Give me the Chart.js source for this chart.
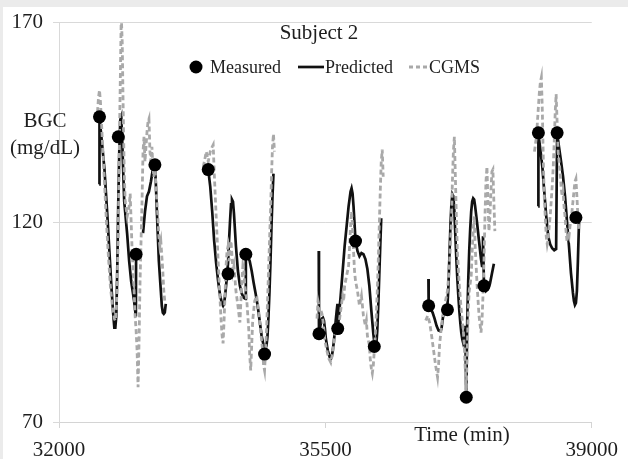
<!DOCTYPE html>
<html><head><meta charset="utf-8">
<script src="https://cdn.jsdelivr.net/npm/chart.js@4.4.0/dist/chart.umd.min.js"></script>
<style>html,body{margin:0;padding:0;background:#fff;}canvas{display:block;}</style>
</head><body>
<canvas id="c" width="628" height="459"></canvas>
<script>
const xTicks = [32000, 35500, 39000];
const yTicks = [70, 120, 170];
const seriesNames = ['Measured', 'Predicted', 'CGMS'];

const measT = [32532,32779,33013,33260,33961,34221,34455,34701,35416,35662,35896,36143,36857,37104,37351,37584,38299,38545,38792];
const measV = [146.4,141.4,112.0,134.4,133.2,107.1,112.0,87.0,92.1,93.4,115.3,88.9,99.1,98.1,76.2,104.1,142.4,142.4,121.2];

const predT = [
32528,32532,32597,32636,32662,32688,32714,32727,32740,32753,32766,32779,32792,32805,32818,32831,32857,32896,32922,32948,32987,33010,33013,null,
33104,33130,33156,33182,33208,33234,33260,33273,33286,33299,33312,33338,33351,33364,33377,33390,33403,null,
33961,33987,34013,34039,34065,34091,34117,34143,34156,34169,34182,34195,34208,34221,34234,34247,34260,34273,34286,34299,34325,34351,34377,34403,34429,34452,34455,34481,34506,34532,34558,34584,34610,34636,34662,34688,34714,34727,34740,34753,34766,34779,34792,34805,34818,null,
35413,35416,35442,35455,35468,35481,35494,35506,35532,35558,35571,35584,35597,35610,35623,35636,35649,35659,35662,35675,35701,35727,35753,35779,35805,35831,35844,35857,35870,35883,35896,35922,35948,35974,36000,36026,36052,36078,36104,36130,36143,36156,36169,36182,36195,36208,36221,36234,null,
36854,36857,36883,36909,36935,36961,36987,37013,37026,37039,37052,37065,37091,37104,37117,37130,37143,37156,37169,37182,37195,37208,37221,37234,37247,37260,37273,37286,37299,37312,37325,37338,37351,37364,37377,37390,37403,37416,37429,37442,37455,37468,37494,37519,37545,37558,37571,37584,37610,37636,37662,37688,37714,null,
38296,38299,38325,38351,38376,38402,38428,38454,38480,38507,38532,38545,38571,38597,38623,38649,38675,38701,38727,38753,38766,38779,38792,38805,38818,38831,38836];
const predV = [
129.5,146.4,133.4,121.5,112.8,104.1,96.6,93.6,93.6,96.6,108.6,125.2,137.7,145.6,146.4,140.1,125.2,117.0,110.3,105.3,100.3,96.4,112.0,null,
117.3,122.7,126.5,127.7,130.2,133.4,134.4,129.5,122.7,116.5,110.3,102.8,99.1,97.4,97.1,97.4,99.6,null,
133.2,129.0,122.7,115.3,109.8,105.3,101.6,99.6,99.1,99.6,101.6,104.1,106.6,109.8,115.3,120.2,124.5,125.7,125.2,122.2,114.0,107.8,104.1,102.1,101.1,100.8,112.3,111.5,110.3,107.8,104.8,102.1,99.1,95.4,91.6,89.2,88.4,89.2,91.6,96.6,102.8,110.3,119.0,126.5,132.2,null,
112.8,92.1,94.9,95.9,96.1,95.4,93.4,90.9,87.9,86.2,85.9,86.4,87.9,89.9,92.4,95.4,97.9,99.6,93.4,95.9,101.6,107.8,114.0,119.0,124.0,127.7,128.5,127.2,124.0,119.7,115.3,112.8,111.5,112.3,112.0,110.8,108.3,104.1,97.9,92.1,89.9,88.7,89.2,92.9,99.1,106.6,114.0,121.0,null,
105.8,99.1,98.4,97.4,95.9,94.1,92.9,92.7,93.4,95.4,97.1,97.9,98.1,99.1,104.1,111.5,119.0,124.5,127.0,126.5,122.7,116.5,110.8,105.8,101.6,97.9,94.9,92.4,90.7,89.7,90.4,94.1,76.2,95.4,105.3,112.8,118.3,122.7,125.2,126.0,125.7,124.0,119.7,115.3,110.8,109.1,116.5,104.1,102.8,103.3,104.6,107.1,109.6,null,
124.0,142.1,138.2,133.9,127.7,121.5,116.5,114.5,113.5,113.0,113.3,142.4,138.7,135.2,131.4,126.5,120.2,114.0,107.3,102.3,100.3,99.3,99.8,102.8,110.3,119.0,121.2];

const cgmsT = [
32506,32519,32532,32545,32571,32597,32623,32649,32675,32701,32727,32740,32753,32766,32779,32792,32805,32818,32831,32844,32857,32870,32896,32922,32935,32948,32961,32987,33000,33013,33026,33039,33052,33065,33078,33091,33104,33117,33130,33143,33156,33169,33182,33195,33208,33221,33234,33247,33260,33273,33286,33299,33312,33325,33338,33351,33364,33377,33390,null,
33896,33922,33935,33961,33987,34013,34026,34039,34065,34091,34117,34130,34143,34156,34169,34182,34195,34208,34221,34234,34247,34260,34273,34286,34299,34325,34351,34377,34390,34403,34416,34429,34442,34468,34494,34506,34519,34532,34545,34571,34597,34623,34649,34675,34688,34701,34714,34727,34740,34753,34766,34779,34792,34805,34818,34831,null,
35390,35403,35416,35429,35442,35455,35468,35481,35494,35519,35545,35571,35597,35623,35649,35662,35675,35701,35727,35740,35753,35779,35805,35818,35831,35844,35857,35870,35883,35896,35922,35948,35974,36000,36026,36039,36052,36078,36091,36104,36117,36130,36143,36156,36169,36182,36195,36208,36221,36234,36247,36260,null,
36818,36844,36870,36896,36922,36948,36974,36987,37000,37026,37052,37078,37104,37130,37156,37169,37182,37195,37208,37221,37234,37260,37286,37312,37325,37338,37351,37364,37377,37390,37416,37429,37442,37455,37468,37494,37519,37545,37558,37571,37584,37597,37610,37623,37636,37649,37662,37675,37688,37701,37714,37727,null,
38247,38273,38286,38299,38312,38325,38338,38351,38364,38376,38389,38402,38415,38428,38441,38454,38467,38480,38494,38507,38520,38532,38545,38558,38571,38584,38597,38610,38623,38636,38649,38662,38675,38688,38701,38714,38727,38740,38753,38766,38779,38792,38805,38818,38831];
const cgmsV = [
147.6,151.3,153.1,150.1,140.1,130.2,120.2,111.5,104.1,99.1,95.9,95.4,97.9,105.3,117.8,137.7,155.1,172,165,147.6,132.7,125.2,121.5,124.0,127.2,120.2,112.8,102.8,96.6,92.9,87.9,78.7,90.4,105.3,115.3,125.2,137.7,141.4,135.2,138.9,142.6,145.1,145.9,137.7,135.2,138.9,133.9,131.4,135.2,129.0,125.2,121.5,116.5,114.0,115.3,111.5,107.8,102.8,100.3,null,
133.9,136.4,137.7,135.2,137.7,138.9,139.4,132.7,121.5,110.3,100.3,95.4,91.6,89.7,95.4,102.1,109.1,112.8,114.0,110.3,114.0,115.3,111.5,107.8,109.1,102.8,99.1,94.9,100.3,105.3,109.1,107.8,104.1,100.3,92.9,86.7,82.9,89.2,95.4,100.3,101.6,97.9,92.9,87.9,84.2,82.9,87.9,92.9,100.3,107.8,115.3,122.7,131.4,138.9,142.1,137.7,null,
95.9,100.3,99.1,97.4,97.9,97.1,95.4,92.9,90.4,87.9,85.9,84.9,87.4,91.6,94.9,92.9,94.1,97.9,101.6,100.3,104.1,106.6,109.1,114.0,119.0,122.7,119.0,112.8,107.8,105.3,102.8,99.1,101.6,96.6,94.1,95.4,91.6,89.2,85.4,83.4,82.2,84.2,87.9,91.6,96.6,102.8,110.3,119.0,127.7,135.2,138.2,131.4,null,
95.4,96.6,94.9,91.6,87.9,84.2,81.2,84.2,89.2,94.1,97.9,100.3,102.8,109.1,120.2,130.2,137.7,141.4,131.4,121.5,112.8,104.1,97.9,92.9,89.2,83.0,77.5,87.9,97.9,102.8,106.6,112.8,117.8,121.5,114.0,104.1,96.6,92.4,95.4,101.6,110.3,121.5,130.2,133.9,125.2,117.8,121.5,127.7,132.7,133.2,125.2,117.8,null,
137.7,141.4,145.1,148.9,152.6,155.1,156.3,147.6,135.2,126.5,121.5,116.5,114.5,115.8,119.0,121.5,125.2,129.0,133.9,140.1,147.6,152.1,145.1,137.7,135.2,132.7,129.0,126.5,127.7,124.0,121.5,117.8,115.3,117.3,116.5,119.0,120.2,122.7,125.2,127.7,130.2,130.9,126.5,121.5,117.8];

function pts(T, V) {
  return T.map((t, i) => ({ x: t === null ? T[i - 1] + 1 : t, y: V[i] }));
}

const SERIF = '"Liberation Serif", "Times New Roman", serif';
const TXT = '#1e1e1e';

const textPlugin = {
  id: 'texts',
  beforeDraw(chart) {
    const c = chart.ctx;
    c.save();
    c.fillStyle = '#ebebeb';
    c.fillRect(0, 0, chart.width, 7);
    c.fillRect(0, 0, 3, chart.height);
    c.restore();
  },
  afterDraw(chart) {
    const c = chart.ctx;
    const ds = chart.data.datasets;
    c.save();
    c.fillStyle = TXT;
    c.textBaseline = 'middle';
    c.textAlign = 'center';
    c.font = '21px ' + SERIF;
    c.fillText('Subject 2', 319, 33);
    c.fillText('BGC', 45, 121);
    c.fillText('(mg/dL)', 45, 148);
    c.fillText('Time (min)', 462, 435);
    // legend
    c.font = '18px ' + SERIF;
    c.textAlign = 'left';
    const ly = 67;
    c.beginPath(); c.arc(196, ly, 6.5, 0, Math.PI * 2);
    c.fillStyle = ds[0].pointBackgroundColor; c.fill();
    c.fillStyle = TXT; c.fillText(ds[0].label, 210, ly + 1);
    c.strokeStyle = ds[1].borderColor; c.lineWidth = ds[1].borderWidth;
    c.beginPath(); c.moveTo(298, ly); c.lineTo(324, ly); c.stroke();
    c.fillText(ds[1].label, 325, ly + 1);
    c.strokeStyle = ds[2].borderColor; c.lineWidth = ds[2].borderWidth;
    c.setLineDash([4, 3]);
    c.beginPath(); c.moveTo(409, ly); c.lineTo(428, ly); c.stroke();
    c.setLineDash([]);
    c.fillText(ds[2].label, 429, ly + 1);
    c.restore();
  }
};

new Chart(document.getElementById('c').getContext('2d'), {
  type: 'line',
  data: {
    datasets: [
      { label: seriesNames[0], data: pts(measT, measV), showLine: false, pointRadius: 6.5,
        pointBackgroundColor: '#000', pointBorderColor: '#000', pointBorderWidth: 0, order: 0 },
      { label: seriesNames[1], data: pts(predT, predV), borderColor: '#111', borderWidth: 2.7,
        pointRadius: 0, spanGaps: false, order: 2 },
      { label: seriesNames[2], data: pts(cgmsT, cgmsV), borderColor: '#a9a9a9', borderWidth: 2.8,
        borderDash: [5, 3], pointRadius: 0, spanGaps: false, order: 1 }
    ]
  },
  options: {
    responsive: false,
    animation: false,
    devicePixelRatio: 1,
    layout: { padding: { top: 20, right: 30, left: 0, bottom: 0 } },
    plugins: { legend: { display: false }, tooltip: { enabled: false }, title: { display: false } },
    scales: {
      x: {
        type: 'linear', min: 32000, max: 39000,
        afterBuildTicks: s => { s.ticks = xTicks.map(v => ({ value: v })); },
        afterFit: s => { s.height = 37; },
        ticks: { font: { family: SERIF, size: 21 }, color: TXT, padding: 10, maxRotation: 0, autoSkip: false,
                 callback: v => String(v) },
        grid: { drawOnChartArea: false, drawTicks: true, tickLength: 6, color: '#d4d4d4' },
        border: { display: true, color: '#d4d4d4', width: 1 }
      },
      y: {
        min: 70, max: 170,
        afterBuildTicks: s => { s.ticks = yTicks.map(v => ({ value: v })); },
        afterFit: s => { s.width = 59; },
        ticks: { font: { family: SERIF, size: 21 }, color: TXT, padding: 10, autoSkip: false },
        grid: { color: '#d9d9d9', tickLength: 6, drawTicks: true },
        border: { display: true, color: '#d9d9d9', width: 1 }
      }
    }
  },
  plugins: [textPlugin]
});
</script>
</body></html>
